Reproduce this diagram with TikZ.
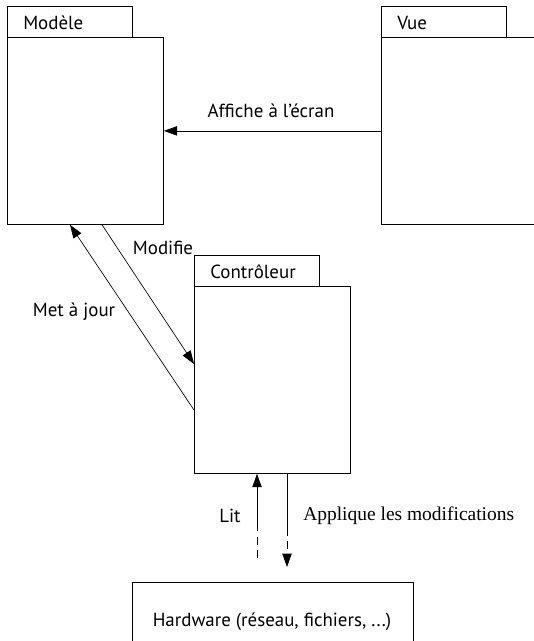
\documentclass[tikz,border=0pt]{standalone}
\usepackage{fontspec}
\setmainfont{Liberation Serif}
\newfontfamily\lblfont{PT Sans}
\usetikzlibrary{arrows.meta,calc}
\tikzset{
  box/.style={draw, line width=0.6pt, inner sep=0pt, anchor=north west},
  lbl/.style={font=\lblfont\fontsize{14.2}{16}\selectfont, inner sep=0pt},
  slbl/.style={font=\fontsize{14.6}{17}\selectfont, inner sep=0pt},
  tip/.style={-{Triangle[length=10pt,width=7pt]}},
  arr/.style={line width=0.5pt, tip},
  ln/.style={line width=0.5pt},
  dsh/.style={line width=0.5pt, dash pattern=on 6pt off 4pt},
}
\begin{document}
\begin{tikzpicture}[x=0.75pt,y=-0.75pt]
\useasboundingbox (0,0) rectangle (534,641);
\clip (0,0) rectangle (534,641);
% Modele
\node[box, minimum width={125*0.75pt}, minimum height={31*0.75pt}] (mtab) at (7,6) {};
\node[box, minimum width={156*0.75pt}, minimum height={187*0.75pt}] (mbox) at (7,37) {};
\node[lbl, anchor=west] (mtxt) at (23,23) {Modèle};
% Vue
\node[box, minimum width={125*0.75pt}, minimum height={31*0.75pt}] (vtab) at (381,6) {};
\node[box, minimum width={180*0.75pt}, minimum height={187*0.75pt}] (vbox) at (381,37) {};
\node[lbl, anchor=west] (vtxt) at (397,23) {Vue};
% Controleur
\node[box, minimum width={125*0.75pt}, minimum height={31*0.75pt}] (ctab) at (194,255) {};
\node[box, minimum width={156*0.75pt}, minimum height={187*0.75pt}] (cbox) at (194,286) {};
\node[lbl, anchor=west] (ctxt) at (210,272) {Contrôleur};
% Hardware
\node[box, minimum width={281*0.75pt}, minimum height={80*0.75pt}] (hw) at (132,582) {};
\node[lbl] (hwtxt) at (272,622) {Hardware (réseau, fichiers, ...)};
% Affiche
\draw[arr] (vbox.west) -- (mbox.east);
\node[lbl] (laff) at (271,111) {Affiche à l’écran};
% Modifie
\draw[arr] ($(mbox.south west)+(95,0)$) -- ($(cbox.north west)+(0,78)$);
\node[lbl] (lmod) at (163,248) {Modifie};
% Met a jour
\draw[arr] ($(cbox.north west)+(0,124)$) -- ($(mbox.south west)+(63,0)$);
\node[lbl] (lmaj) at (74,312) {Met à jour};
% Lit
\coordinate (litA) at ($(hw.north west)+(125,-24)$);
\coordinate (litB) at ($(hw.north west)+(125,-55)$);
\draw[dsh] (litA) -- (litB);
\draw[arr] (litB) -- ($(cbox.south west)+(63,0)$);
\node[lbl] (llit) at (230,516) {Lit};
% Applique
\coordinate (appB) at ($(cbox.south west)+(93,54)$);
\coordinate (appA) at ($(hw.north west)+(155,-15)$);
\draw[ln] ($(cbox.south west)+(93,0)$) -- (appB);
\draw[dsh, tip] (appB) -- (appA);
\node[slbl, anchor=west] (lapp) at (303,516) {Applique les modifications};
\end{tikzpicture}
\end{document}
